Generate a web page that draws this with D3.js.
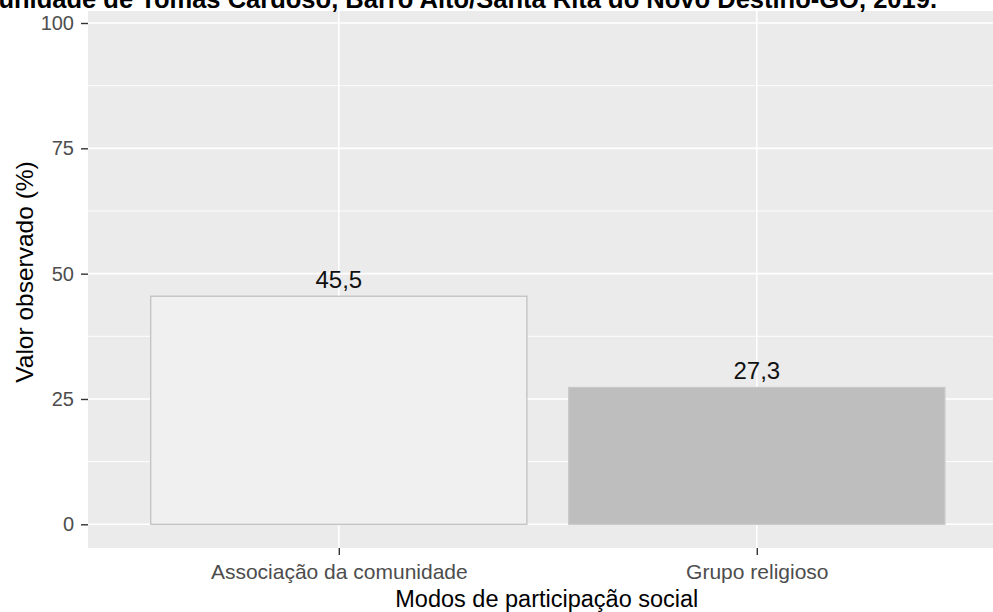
<!DOCTYPE html>
<html>
<head>
<meta charset="utf-8">
<script src="https://cdn.jsdelivr.net/npm/d3@7"></script>
<style>
  html, body { margin: 0; padding: 0; background: #fff; }
  svg { display: block; }
</style>
</head>
<body>
<svg id="chart" width="993" height="612"></svg>
<script>
// ---- data ----
const categories = ["Associação da comunidade", "Grupo religioso"];
const values = [45.5, 27.3];
const valueLabels = ["45,5", "27,3"];
const barFills = ["#F0F0F0", "#BEBEBE"];
const barStrokes = ["#BEBEBE", "#C8C8C8"];
const yTicks = [0, 25, 50, 75, 100];
const yMinorTicks = [12.5, 37.5, 62.5, 87.5];
const titleText = "comunidade de Tomás Cardoso, Barro Alto/Santa Rita do Novo Destino-GO, 2019.";
const xTitle = "Modos de participação social";
const yTitle = "Valor observado (%)";

// ---- layout ----
const svg = d3.select("#chart");
const panel = { left: 88, right: 1007.6, top: 11, bottom: 548 };

const x = d3.scalePoint().domain(categories).range([panel.left, panel.right]).padding(0.6);
const y = d3.scaleLinear().domain([0, 100]).range([524.3, 23]);
const barW = x.step() * 0.9;

// panel background
svg.append("rect")
  .attr("x", panel.left).attr("y", panel.top)
  .attr("width", panel.right - panel.left).attr("height", panel.bottom - panel.top)
  .attr("fill", "#EBEBEB");

// grid
const g = svg.append("g");
g.selectAll("line.minor").data(yMinorTicks).enter().append("line")
  .attr("x1", panel.left).attr("x2", panel.right)
  .attr("y1", d => y(d)).attr("y2", d => y(d))
  .attr("stroke", "#fff").attr("stroke-width", 0.9);
g.selectAll("line.majy").data(yTicks).enter().append("line")
  .attr("x1", panel.left).attr("x2", panel.right)
  .attr("y1", d => y(d)).attr("y2", d => y(d))
  .attr("stroke", "#fff").attr("stroke-width", 1.6);
g.selectAll("line.majx").data(categories).enter().append("line")
  .attr("y1", panel.top).attr("y2", panel.bottom)
  .attr("x1", d => x(d)).attr("x2", d => x(d))
  .attr("stroke", "#fff").attr("stroke-width", 1.6);

// bars
svg.selectAll("rect.bar").data(categories).enter().append("rect")
  .attr("class", "bar")
  .attr("x", d => x(d) - barW / 2)
  .attr("width", barW)
  .attr("y", (d, i) => y(values[i]))
  .attr("height", (d, i) => y(0) - y(values[i]))
  .attr("fill", (d, i) => barFills[i])
  .attr("stroke", (d, i) => barStrokes[i])
  .attr("stroke-width", 1.2);

// value labels
svg.selectAll("text.val").data(categories).enter().append("text")
  .attr("x", d => x(d))
  .attr("y", (d, i) => y(values[i]) - 8.5)
  .attr("text-anchor", "middle")
  .attr("font-family", "Liberation Sans, Arial, sans-serif")
  .attr("font-size", 24)
  .attr("fill", "#111")
  .text((d, i) => valueLabels[i]);

// y axis
const yAxis = d3.axisLeft(y).tickValues(yTicks).tickSize(7).tickPadding(7);
const ya = svg.append("g").attr("transform", `translate(${panel.left},0)`).call(yAxis);
ya.select(".domain").remove();
ya.selectAll(".tick line").attr("stroke", "#333").attr("stroke-width", 1.4);
ya.selectAll(".tick text").attr("font-family", "Liberation Sans, Arial, sans-serif")
  .attr("font-size", 20).attr("fill", "#4D4D4D");

// x axis
const xAxis = d3.axisBottom(x).tickSize(7).tickPadding(9);
const xa = svg.append("g").attr("transform", `translate(0,${panel.bottom})`).call(xAxis);
xa.select(".domain").remove();
xa.selectAll(".tick line").attr("stroke", "#333").attr("stroke-width", 1.4);
xa.selectAll(".tick text").attr("font-family", "Liberation Sans, Arial, sans-serif")
  .attr("font-size", 21).attr("fill", "#4D4D4D");

// axis titles
svg.append("text")
  .attr("x", (panel.left + 1007.6) / 2 - 1).attr("y", 607)
  .attr("text-anchor", "middle")
  .attr("font-family", "Liberation Sans, Arial, sans-serif")
  .attr("font-size", 23.5).attr("fill", "#000")
  .text(xTitle);

svg.append("text")
  .attr("transform", "translate(33,272) rotate(-90)")
  .attr("text-anchor", "middle")
  .attr("font-family", "Liberation Sans, Arial, sans-serif")
  .attr("font-size", 24.5).attr("fill", "#000")
  .text(yTitle);

// title (cropped at top-left like the reference)
const title = svg.append("text")
  .attr("x", 937).attr("y", 8)
  .attr("text-anchor", "end")
  .attr("font-family", "Liberation Sans, Arial, sans-serif")
  .attr("font-weight", "bold")
  .attr("font-size", 20)
  .attr("fill", "#000")
  .text(titleText);
// scale so that the visible part ("unidade ... 2019.") spans ~0..937
const probe = svg.append("text")
  .attr("font-family", "Liberation Sans, Arial, sans-serif")
  .attr("font-weight", "bold").attr("font-size", 20)
  .text(titleText.slice(3));
const w = probe.node().getComputedTextLength();
probe.remove();
title.attr("font-size", 20 * 939 / w);
</script>
</body>
</html>
